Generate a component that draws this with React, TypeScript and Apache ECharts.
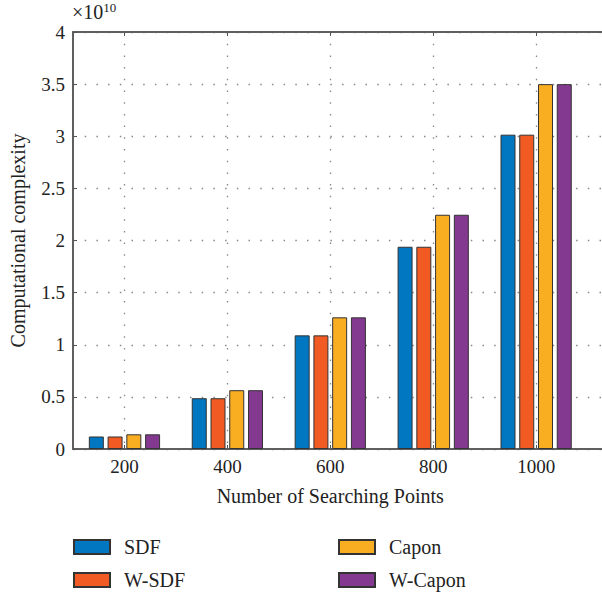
import React, { useEffect, useRef } from "react";
import * as echarts from "echarts";

const categories = ["200", "400", "600", "800", "1000", ""];
const sdf = [0.12, 0.487, 1.09, 1.94, 3.015];
const wsdf = [0.12, 0.487, 1.09, 1.94, 3.015];
const capon = [0.141, 0.564, 1.263, 2.247, 3.5];
const wcapon = [0.141, 0.564, 1.263, 2.247, 3.5];
const seriesNames = ["SDF", "W-SDF", "Capon", "W-Capon"];
const colors = ["#0077C0", "#F15A22", "#F9AE22", "#843990"];

const FONT = "'Liberation Serif', 'DejaVu Serif', serif";

export default function App() {
  const ref = useRef<HTMLDivElement>(null);
  useEffect(() => {
    document.body.style.margin = "0";
    const chart = echarts.init(ref.current!, null, { renderer: "svg" });
    const values = [sdf, wsdf, capon, wcapon];
    const gridLine = { show: true, lineStyle: { color: "#888", type: [1.5, 10.2] as any, width: 1.3 } };
    const legendBase = {
      orient: "vertical",
      top: 537,
      padding: 0,
      itemWidth: 36,
      itemHeight: 14,
      itemGap: 13,
      icon: "rect",
      textStyle: { fontFamily: FONT, fontSize: 20, color: "#222", padding: [0, 0, 0, 9] },
    };
    chart.setOption({
      animation: false,
      textStyle: { fontFamily: FONT },
      grid: {
        left: 72.5,
        top: 32,
        width: 618,
        height: 417,
        show: true,
        borderColor: "#555",
        borderWidth: 1.5,
        containLabel: false,
      },
      legend: [
        { ...legendBase, data: ["SDF", "W-SDF"], left: 73 },
        { ...legendBase, data: ["Capon", "W-Capon"], left: 338 },
      ],
      xAxis: [
        {
          type: "category",
          data: categories,
          position: "bottom",
          axisLine: { show: true, lineStyle: { color: "#555", width: 1.5 } },
          axisTick: { show: true, inside: true, alignWithLabel: true, length: 4, lineStyle: { color: "#555" } },
          axisLabel: { fontFamily: FONT, fontSize: 19, color: "#222", margin: 8 },
          splitLine: { ...gridLine, alignWithLabel: true } as any,
          name: "Number of Searching Points",
          nameLocation: "middle",
          nameGap: 37,
          nameTextStyle: { fontFamily: FONT, fontSize: 20, color: "#222", padding: [0, 0, 0, -103] },
        },
        {
          type: "category",
          data: categories,
          position: "top",
          axisLine: { show: true, lineStyle: { color: "#555", width: 1.5 } },
          axisTick: { show: true, inside: true, alignWithLabel: true, length: 4, lineStyle: { color: "#555" } },
          axisLabel: { show: false },
          splitLine: { show: false },
        },
      ],
      yAxis: {
        type: "value",
        min: 0,
        max: 4,
        interval: 0.5,
        axisLine: { show: true, lineStyle: { color: "#555", width: 1.5 } },
        axisTick: { show: true, inside: true, length: 4, lineStyle: { color: "#555" } },
        axisLabel: { fontFamily: FONT, fontSize: 19, color: "#222", margin: 8 },
        splitLine: gridLine,
        name: "Computational complexity",
        nameLocation: "middle",
        nameGap: 45,
        nameTextStyle: { fontFamily: FONT, fontSize: 20, color: "#222" },
      },
      graphic: [
        {
          type: "text",
          left: 72,
          top: 1,
          style: {
            text: "×10{sup|10}",
            fontFamily: FONT,
            fontSize: 20,
            fill: "#222",
            rich: { sup: { fontSize: 13, fontFamily: FONT, verticalAlign: "top", padding: [0, 0, 9, 0] } },
          },
        },
      ],
      series: seriesNames.map((name, i) => ({
        name,
        type: "bar",
        data: values[i],
        barWidth: 15,
        barGap: "25%",
        itemStyle: { color: colors[i], borderColor: "#333", borderWidth: 1 },
      })),
    });
    return () => chart.dispose();
  }, []);
  return (
    <div style={{ width: 602, height: 596, overflow: "hidden" }}>
      <div ref={ref} style={{ width: 700, height: 596 }} />
    </div>
  );
}
